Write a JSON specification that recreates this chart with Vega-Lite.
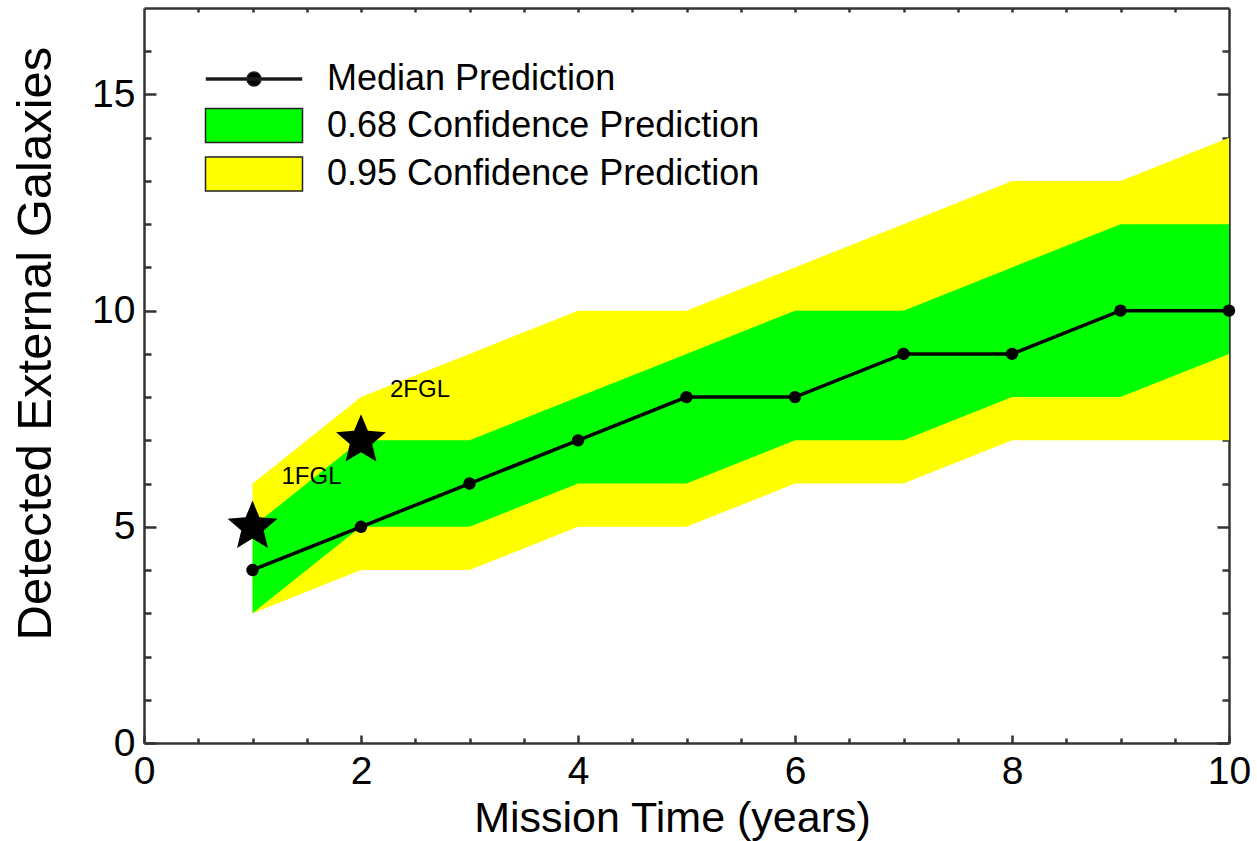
{
  "$schema": "https://vega.github.io/schema/vega-lite/v6.json",
  "width": 1085,
  "height": 735,
  "autosize": {"type": "none"},
  "padding": {"left": 144, "top": 8, "right": 28, "bottom": 98},
  "background": "white",
  "datasets": {
    "bands": [
      {"t": 1, "band": "0.95 Confidence Prediction", "lo": 3, "hi": 6},
      {"t": 2, "band": "0.95 Confidence Prediction", "lo": 4, "hi": 8},
      {"t": 3, "band": "0.95 Confidence Prediction", "lo": 4, "hi": 9},
      {"t": 4, "band": "0.95 Confidence Prediction", "lo": 5, "hi": 10},
      {"t": 5, "band": "0.95 Confidence Prediction", "lo": 5, "hi": 10},
      {"t": 6, "band": "0.95 Confidence Prediction", "lo": 6, "hi": 11},
      {"t": 7, "band": "0.95 Confidence Prediction", "lo": 6, "hi": 12},
      {"t": 8, "band": "0.95 Confidence Prediction", "lo": 7, "hi": 13},
      {"t": 9, "band": "0.95 Confidence Prediction", "lo": 7, "hi": 13},
      {"t": 10, "band": "0.95 Confidence Prediction", "lo": 7, "hi": 14},
      {"t": 1, "band": "0.68 Confidence Prediction", "lo": 3, "hi": 5},
      {"t": 2, "band": "0.68 Confidence Prediction", "lo": 5, "hi": 7},
      {"t": 3, "band": "0.68 Confidence Prediction", "lo": 5, "hi": 7},
      {"t": 4, "band": "0.68 Confidence Prediction", "lo": 6, "hi": 8},
      {"t": 5, "band": "0.68 Confidence Prediction", "lo": 6, "hi": 9},
      {"t": 6, "band": "0.68 Confidence Prediction", "lo": 7, "hi": 10},
      {"t": 7, "band": "0.68 Confidence Prediction", "lo": 7, "hi": 10},
      {"t": 8, "band": "0.68 Confidence Prediction", "lo": 8, "hi": 11},
      {"t": 9, "band": "0.68 Confidence Prediction", "lo": 8, "hi": 12},
      {"t": 10, "band": "0.68 Confidence Prediction", "lo": 9, "hi": 12}
    ],
    "median": [
      {"t": 1, "median": 4},
      {"t": 2, "median": 5},
      {"t": 3, "median": 6},
      {"t": 4, "median": 7},
      {"t": 5, "median": 8},
      {"t": 6, "median": 8},
      {"t": 7, "median": 9},
      {"t": 8, "median": 9},
      {"t": 9, "median": 10},
      {"t": 10, "median": 10}
    ],
    "catalogs": [
      {"t": 1, "n": 5, "label": "1FGL"},
      {"t": 2, "n": 7, "label": "2FGL"}
    ]
  },
  "resolve": {"axis": {"x": "independent", "y": "independent"}},
  "layer": [
    {
      "data": {"name": "bands"},
      "transform": [{"filter": "datum.band === '0.95 Confidence Prediction'"}],
      "mark": {"type": "area", "orient": "vertical", "opacity": 1},
      "encoding": {
        "x": {"field": "t", "type": "quantitative",
          "scale": {"domain": [0, 10], "nice": false, "zero": false},
          "axis": {"orient": "bottom", "values": [0, 2, 4, 6, 8, 10], "ticks": false, "domain": true, "labelPadding": 9,
            "title": "Mission Time (years)", "titleFontSize": 43, "titleX": 528, "titleY": 88, "titleBaseline": "alphabetic", "titleAlign": "center"}},
        "y": {"field": "lo", "type": "quantitative",
          "scale": {"domain": [0, 17], "nice": false, "zero": false},
          "axis": {"orient": "left", "values": [0, 5, 10, 15], "ticks": false, "domain": true, "labelPadding": 9,
            "title": "Detected External Galaxies", "titleFontSize": 49, "titleX": -133, "titleY": 335, "titleBaseline": "top", "titleAlign": "center", "titleAngle": 270}},
        "y2": {"field": "hi"},
        "fill": {"field": "band", "type": "nominal",
          "scale": {"domain": ["Median Prediction", "0.68 Confidence Prediction", "0.95 Confidence Prediction"], "range": ["#000000", "#00ff00", "#ffff00"]},
          "legend": {
            "title": null, "orient": "none", "legendX": 92, "legendY": 53, "padding": 0,
            "symbolSize": 1156, "symbolStrokeWidth": 1.5, "symbolStrokeColor": "#222222",
            "labelFont": "Liberation Sans", "labelFontSize": 36, "labelColor": "black", "labelLimit": 1000,
            "labelOffset": 55, "rowPadding": 8.5,
            "symbolType": {"expr": "datum.value === 'Median Prediction' ? 'M-2.794,-0.06H2.794V0.06H-2.794ZM0.41,0A0.41,0.41 0 1,1 -0.41,0A0.41,0.41 0 1,1 0.41,0Z' : 'M-2.853,-1H2.853V1H-2.853Z'"},
            "encode": {"symbols": {
              "enter": {
                "shape": {"value": {"expr": "datum.value === 'Median Prediction' ? 'M-2.794,-0.06H2.794V0.06H-2.794ZM0.41,0A0.41,0.41 0 1,1 -0.41,0A0.41,0.41 0 1,1 0.41,0Z' : 'M-2.853,-1H2.853V1H-2.853Z'"}}
              },
              "update": {
                "shape": {"value": {"expr": "datum.value === 'Median Prediction' ? 'M-2.794,-0.06H2.794V0.06H-2.794ZM0.41,0A0.41,0.41 0 1,1 -0.41,0A0.41,0.41 0 1,1 0.41,0Z' : 'M-2.853,-1H2.853V1H-2.853Z'"}},
                "opacity": {"value": 1}
              }
            }}
          }}
      }
    },
    {
      "data": {"name": "bands"},
      "transform": [{"filter": "datum.band === '0.68 Confidence Prediction'"}],
      "mark": {"type": "area", "orient": "vertical", "opacity": 1},
      "encoding": {
        "x": {"field": "t", "type": "quantitative",
          "axis": {"orient": "bottom", "values": [0, 2, 4, 6, 8, 10], "tickSize": -8, "labels": false, "domain": false, "title": null}},
        "y": {"field": "lo", "type": "quantitative",
          "axis": {"orient": "left", "values": [0, 5, 10, 15], "tickSize": -12, "labels": false, "domain": false, "title": null}},
        "y2": {"field": "hi"},
        "fill": {"field": "band", "type": "nominal"}
      }
    },
    {
      "data": {"name": "median"},
      "mark": {"type": "line", "color": "black", "strokeWidth": 3.5},
      "encoding": {
        "x": {"field": "t", "type": "quantitative",
          "axis": {"orient": "bottom", "values": [0.5, 1, 1.5, 2.5, 3, 3.5, 4.5, 5, 5.5, 6.5, 7, 7.5, 8.5, 9, 9.5], "tickSize": -5, "labels": false, "domain": false, "title": null}},
        "y": {"field": "median", "type": "quantitative",
          "axis": {"orient": "left", "values": [1, 2, 3, 4, 6, 7, 8, 9, 11, 12, 13, 14, 16], "tickSize": -7, "labels": false, "domain": false, "title": null}}
      }
    },
    {
      "data": {"name": "median"},
      "mark": {"type": "point", "filled": true, "color": "black", "opacity": 1, "size": 155},
      "encoding": {
        "x": {"field": "t", "type": "quantitative",
          "axis": {"orient": "top", "values": [0.5, 1, 1.5, 2, 2.5, 3, 3.5, 4, 4.5, 5, 5.5, 6, 6.5, 7, 7.5, 8, 8.5, 9, 9.5], "tickSize": -4, "labels": false, "domain": true, "title": null}},
        "y": {"field": "median", "type": "quantitative",
          "axis": {"orient": "right", "values": [0, 5, 10, 15], "tickSize": -12, "labels": false, "domain": true, "title": null}}
      }
    },
    {
      "data": {"name": "catalogs"},
      "mark": {"type": "point", "filled": true, "color": "black", "opacity": 1, "size": 2750,
        "shape": "M0,-1L0.2645,-0.364L0.9511,-0.309L0.428,0.139L0.5878,0.809L0,0.45L-0.5878,0.809L-0.428,0.139L-0.9511,-0.309L-0.2645,-0.364Z"},
      "encoding": {
        "x": {"field": "t", "type": "quantitative", "axis": null},
        "y": {"field": "n", "type": "quantitative",
          "axis": {"orient": "right", "values": [1, 2, 3, 4, 6, 7, 8, 9, 11, 12, 13, 14, 16], "tickSize": -7, "labels": false, "domain": false, "title": null}}
      }
    },
    {
      "data": {"name": "catalogs"},
      "mark": {"type": "text", "dx": 59, "dy": -50, "font": "Liberation Sans", "fontSize": 24, "color": "black", "align": "center", "baseline": "middle"},
      "encoding": {
        "x": {"field": "t", "type": "quantitative", "axis": null},
        "y": {"field": "n", "type": "quantitative", "axis": null},
        "text": {"field": "label"}
      }
    }
  ],
  "config": {
    "view": {"stroke": null},
    "axis": {
      "grid": false,
      "labelFont": "Liberation Sans", "labelFontSize": 39, "labelColor": "black",
      "labelFlush": false, "labelOverlap": false,
      "titleFont": "Liberation Sans", "titleColor": "black", "titleFontWeight": "normal",
      "tickColor": "#333333", "tickWidth": 2.5,
      "domainColor": "#333333", "domainWidth": 2.5,
      "zindex": 1
    }
  }
}
